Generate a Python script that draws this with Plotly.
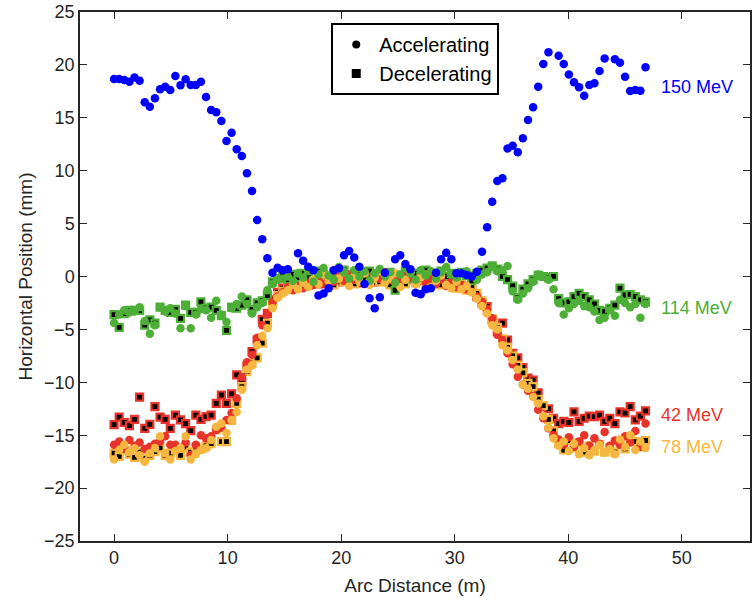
import plotly.graph_objects as go

# Arc distance of BPM readings (m)
arc = [0.0, 0.45, 0.9, 1.35, 1.8, 2.25, 2.7, 3.15, 3.6, 4.05, 4.5, 4.95, 5.4, 5.85, 6.3, 6.75,
       7.2, 7.65, 8.1, 8.55, 9.0, 9.45, 9.9, 10.35, 10.8, 11.25, 11.7, 12.15, 12.6, 13.05, 13.5,
       13.95, 14.4, 14.85, 15.3, 15.75, 16.2, 16.65, 17.1, 17.55, 18.0, 18.45, 18.9, 19.35, 19.8,
       20.25, 20.7, 21.15, 21.6, 22.05, 22.5, 22.95, 23.4, 23.85, 24.3, 24.75, 25.2, 25.65, 26.1,
       26.55, 27.0, 27.45, 27.9, 28.35, 28.8, 29.25, 29.7, 30.15, 30.6, 31.05, 31.5, 31.95, 32.4,
       32.85, 33.3, 33.75, 34.2, 34.65, 35.1, 35.55, 36.0, 36.45, 36.9, 37.35, 37.8, 38.25, 38.7,
       39.15, 39.6, 40.05, 40.5, 40.95, 41.4, 41.85, 42.3, 42.75, 43.2, 43.65, 44.1, 44.55, 45.0,
       45.45, 45.9, 46.35, 46.8]

# 150 MeV accelerating (mm)
acc_150 = [18.67, 18.67, 18.57, 18.41, 18.8, 18.5, 16.46, 16.05, 16.84, 17.69, 17.94, 17.63, 18.95,
           18.07, 18.64, 18.1, 18.1, 18.41, 16.97, 15.74, 15.52, 14.7, 12.8, 13.59, 12.02, 11.39,
           9.75, 8.08, 5.34, 3.51, 1.72, 0.36, 0.83, 0.6, 0.68, None, 2.19, 1.5, 0.93, 0.6, -1.8,
           -1.6, -1.1, 0.6, 0.77, 2.0, 2.4, 1.8, 0.93, -0.7, -2.06, -3.0, -1.97, 0.36, None, 1.63,
           2.0, 1.18, 0.68, -1.53, -1.68, -1.21, -1.1, 0.36, 1.63, 2.25, 1.63, 0.3, 0.3, 0.14, 0.0,
           0.45, 2.35, 4.65, 7.07, 9.03, 9.28, 12.1, 12.36, 11.74, 13.06, 14.8, 16.0, 17.94, 20.08,
           21.19, None, 20.87, 20.08, 19.1, 18.36, 17.88, 17.09, 18.1, 18.26, 19.42, 20.6, None,
           20.53, 20.2, 18.89, 17.53, 17.63, 17.56, 19.77]

# 114 MeV
acc_114 = [-4.4, -3.6, -3.2, -3.4, -3.3, -2.9, -4.2, -5.4, -4.6, -2.9, -3.3, -3.0, -3.5, -4.9, -2.8,
           -4.9, -3.6, -3.1, -3.2, -3.9, -2.3, -3.6, -4.3, -3.0, -2.6, -1.9, -2.6, -3.5, -2.9, -2.5,
           -1.3, -0.7, -0.3, -0.2, 0.0, -0.4, 0.3, -0.1, 0.5, -0.5, 0.2, 0.8, 0.1, -0.3, 0.9, 0.4,
           -0.2, 0.6, 0.0, 0.5, -0.4, 0.3, 0.7, 0.0, 0.4, -0.6, 0.2, 0.8, 0.3, -0.3, 0.6, 0.1, 0.5,
           -0.2, 0.4, 0.9, 0.2, -0.1, 0.3, 0.5, 0.1, -0.3, 0.2, 0.4, 0.9, 0.5, 0.6, 1.0, -1.4, -2.2,
           -1.6, -1.1, -0.5, 0.2, 0.0, -0.3, -1.2, -2.5, -3.6, -3.0, -2.6, -2.3, -2.8, -2.9, -3.3,
           -4.1, -3.9, -3.2, -3.7, -2.2, -2.5, -2.9, -2.6, -3.9, -2.6]
dec_114 = [-3.6, -4.8, -3.5, -3.2, -3.2, -3.2, -4.6, -4.1, -4.4, -2.9, -3.2, -3.4, -3.1, -3.95, -2.7,
           -3.4, -3.4, -2.4, -3.0, -2.9, -3.2, -3.7, -5.1, -2.9, -3.0, -2.7, -2.2, -3.1, -2.5, -2.3,
           -1.8, -0.5, -0.2, 0.0, -0.3, 0.2, -0.1, 0.3, 0.0, -0.4, 0.5, 0.2, -0.2, 0.4, 0.1, 0.6,
           -0.1, 0.3, 0.2, -0.3, 0.5, 0.0, 0.3, -0.2, 0.4, -1.3, 0.1, 0.5, -0.2, 0.3, 0.0, 0.6, -0.3,
           0.2, 0.5, 0.0, 0.3, -0.2, 0.4, 0.1, -0.4, 0.3, 0.6, 0.8, 1.0, 0.7, 0.0, -0.3, -0.9, -2.0,
           -1.2, -0.7, -0.3, 0.1, 0.0, -0.1, 0.0, -2.1, -2.5, -2.4, -1.9, -1.6, -1.9, -2.2, -2.6,
           -3.2, -3.3, -3.0, -2.7, -1.1, -1.75, -1.7, -1.9, -2.2, -2.4]

# 42 MeV
acc_42 = [-15.9, -15.6, -16.2, -15.45, -16.0, -15.7, -16.3, -16.1, -15.8, -15.6, -15.1, -15.9, -15.9,
          -16.2, -15.7, -16.9, -15.9, -15.0, -15.3, -15.1, -14.5, -14.3, -13.56, -12.9, -11.5, -9.5,
          -8.1, -7.4, -5.8, -4.6, -3.6, -2.4, -1.9, -1.5, -1.0, -1.3, -0.9, -1.1, -0.6, -0.8, -0.3,
          -0.7, -0.2, -0.5, 0.1, -0.4, 0.2, -0.3, -0.1, 0.3, -0.4, 0.0, -0.2, 0.4, -0.3, 0.1, -0.5,
          0.2, -0.1, -0.4, 0.1, -0.6, -0.2, -0.7, -0.3, -0.9, -0.5, -1.0, -0.8, -1.2, -1.43, -1.9,
          -2.4, -3.1, -3.95, -5.5, -6.0, -7.26, -8.3, -9.47, -10.2, -10.8, -11.3, -12.6, -13.4,
          -14.35, -15.0, -15.4, -15.9, -15.2, -16.1, -15.6, -15.0, -16.0, -15.3, -15.8, -14.7,
          -16.0, -15.5, -15.9, -15.1, -15.7, -14.6, -16.1, -13.9]
dec_42 = [-14.0, -13.3, -13.8, -14.1, -13.5, -11.4, -14.35, -13.97, -12.3, -13.3, -13.5, -14.35,
          -13.1, -13.56, -13.9, -14.57, -13.1, -13.5, -13.25, -13.1, -12.0, -11.2, -12.0, -11.1,
          -9.3, -9.94, -8.46, -7.1, -6.0, -4.05, -3.48, -2.2, -1.5, -1.1, -0.8, -0.6, -0.9, -0.5,
          -0.8, -0.4, -0.7, -0.2, -0.6, -0.3, -0.5, 0.0, -0.4, -0.1, -0.6, -0.2, 0.1, -0.5, -0.3,
          -0.1, -0.6, -0.2, 0.0, -0.5, -0.3, 0.1, -0.4, -0.2, -0.7, -0.4, -0.1, -0.6, -0.8, -0.5,
          -1.0, -0.9, -1.3, -1.9, -2.5, -2.85, -4.1, -5.2, -4.4, -6.0, -7.26, -7.7, -8.6, -9.6, -9.8,
          -11.0, -12.3, -12.5, -13.4, -13.9, -13.7, -13.8, -12.8, -13.7, -13.4, -13.2, -13.25,
          -13.1, -13.7, -13.4, -13.9, -12.8, -12.9, -12.3, -13.56, -13.2, -12.7]

# 78 MeV
acc_78 = [-17.3, -16.4, -15.9, -16.6, -16.24, -16.9, -17.5, -16.7, -16.2, -15.1, -16.7, -17.3, -16.5,
          -16.2, -15.1, -17.3, -16.8, -16.4, -16.24, -15.45, -14.2, -13.9, -14.8, -13.56, -12.8,
          -10.7, -8.8, -8.4, -6.5, -5.6, -4.9, -3.0, -2.0, -1.6, -1.3, -0.8, -1.2, -0.6, -1.0, -0.3,
          -0.7, 0.2, -0.4, 0.6, -0.2, 0.4, -0.9, 0.0, -0.5, 0.3, -0.8, -0.1, 0.5, -0.6, -0.2, 0.3,
          -1.0, -0.3, 0.4, -0.7, -0.1, 0.2, -1.0, -0.4, 0.1, -0.8, -1.1, -0.5, -1.2, -0.9, -1.5,
          -2.1, -2.8, -3.5, -4.6, -5.0, -6.5, -7.0, -7.9, -8.8, -10.2, -10.6, -11.4, -12.0, -13.2,
          -14.3, -15.3, -16.0, -15.6, -16.5, -15.8, -16.8, -16.2, -16.9, -16.4, -15.9, -16.6, -16.3,
          -16.8, -15.4, -16.1, -15.0, -16.4, -15.6, -16.2]
dec_78 = [-16.7, -17.0, -16.4, -16.8, -17.1, -16.6, -17.2, -16.9, -16.56, -16.2, -16.9, -16.7, -16.4,
          -16.9, -16.1, -16.6, -16.1, -16.3, -16.0, -15.8, -14.5, -15.6, -15.6, -13.6, -12.0, -10.4,
          -9.0, -8.2, -7.7, -6.3, -4.4, -2.6, -1.8, -1.4, -1.0, -0.7, -0.5, -0.9, -0.4, -0.7, -0.2,
          -0.6, -0.3, -0.8, -0.1, -0.5, -0.3, -0.7, 0.0, -0.4, -0.6, -0.2, -0.5, -0.3, -0.8, -0.1,
          -0.4, -0.7, -0.2, -0.6, -0.3, -0.9, -0.5, -0.2, -0.8, -0.4, -0.6, -1.1, -0.7, -1.3, -1.0,
          -1.6, -2.3, -3.2, -4.0, -4.8, -5.9, -6.7, -7.5, -8.4, -9.1, -10.1, -10.4, -11.6, -12.2,
          -13.5, -14.6, -15.8, -16.4, -15.5, -16.2, -15.7, -16.6, -16.0, -16.5, -15.9, -16.6, -16.2,
          -16.6, -15.7, -16.3, -15.4, -15.6, -16.1, -15.5]

# Energy labels: text, x (m), y (mm)
label_text = ["150 MeV", "114 MeV", "42 MeV", "78 MeV"]
label_x = [48.0, 48.0, 48.0, 48.0]
label_y = [17.9, -3.0, -13.1, -16.1]

x_ticks = [0, 10, 20, 30, 40, 50]
y_ticks = [-25, -20, -15, -10, -5, 0, 5, 10, 15, 20, 25]

BLUE = "#0000FF"
GREEN = "#4DAF37"
RED = "#E8332A"
ORANGE = "#F5B740"
label_colors = [BLUE, GREEN, RED, ORANGE]

FONT = "Liberation Sans, Arial, Helvetica, sans-serif"
AX = "#262626"

fig = go.Figure()


def add_acc(y, color):
    fig.add_trace(go.Scatter(x=arc, y=y, mode="markers", showlegend=False, hoverinfo="skip",
                             marker=dict(symbol="circle", size=8.5, color=color, line=dict(width=0))))


def add_dec(y, color):
    fig.add_trace(go.Scatter(x=arc, y=y, mode="markers", showlegend=False, hoverinfo="skip",
                             marker=dict(symbol="square", size=7, color="black",
                                         line=dict(width=2.2, color=color))))


# decelerating squares first, accelerating circles drawn over them
add_dec(dec_42, RED)
add_dec(dec_78, ORANGE)
add_dec(dec_114, GREEN)
add_acc(acc_42, RED)
add_acc(acc_78, ORANGE)
add_acc(acc_114, GREEN)
add_acc(acc_150, BLUE)

# legend entries
fig.add_trace(go.Scatter(x=[None], y=[None], mode="markers", name="Accelerating",
                         marker=dict(symbol="circle", size=8, color="black")))
fig.add_trace(go.Scatter(x=[None], y=[None], mode="markers", name="Decelerating",
                         marker=dict(symbol="square", size=9, color="black")))

for t, lx, ly, c in zip(label_text, label_x, label_y, label_colors):
    fig.add_annotation(x=lx, y=ly, text=t, showarrow=False, xanchor="left", yanchor="middle",
                       font=dict(family=FONT, size=18, color=c))

axis_common = dict(showgrid=False, zeroline=False, showline=True, linecolor=AX, linewidth=1.5,
                   mirror="ticks", ticks="inside", ticklen=7, tickwidth=1.2, tickcolor=AX,
                   automargin=False, ticklabeloverflow="allow",
                   tickfont=dict(family=FONT, size=18, color=AX))

fig.update_layout(
    width=755, height=600,
    margin=dict(l=80, r=5, t=12, b=59),
    paper_bgcolor="white", plot_bgcolor="white",
    font=dict(family=FONT, color=AX),
    xaxis=dict(range=[-3, 56], tickvals=x_ticks,
               title=dict(text="Arc Distance (m)", font=dict(family=FONT, size=19, color=AX), standoff=11),
               **axis_common),
    yaxis=dict(range=[-25, 25], tickvals=y_ticks,
               title=dict(text="Horizontal Position (mm)", font=dict(family=FONT, size=19, color=AX), standoff=6),
               **axis_common),
    legend=dict(x=0.375, y=0.979, xanchor="left", yanchor="top", bgcolor="white",
                bordercolor="black", borderwidth=2, font=dict(family=FONT, size=20, color="black"),
                itemwidth=36, tracegroupgap=0),
)

# remove the default page margin so the figure starts at the window's top-left corner
fig.write_html("out.html", config={"displayModeBar": False},
               post_script="document.body.style.margin='0';")
